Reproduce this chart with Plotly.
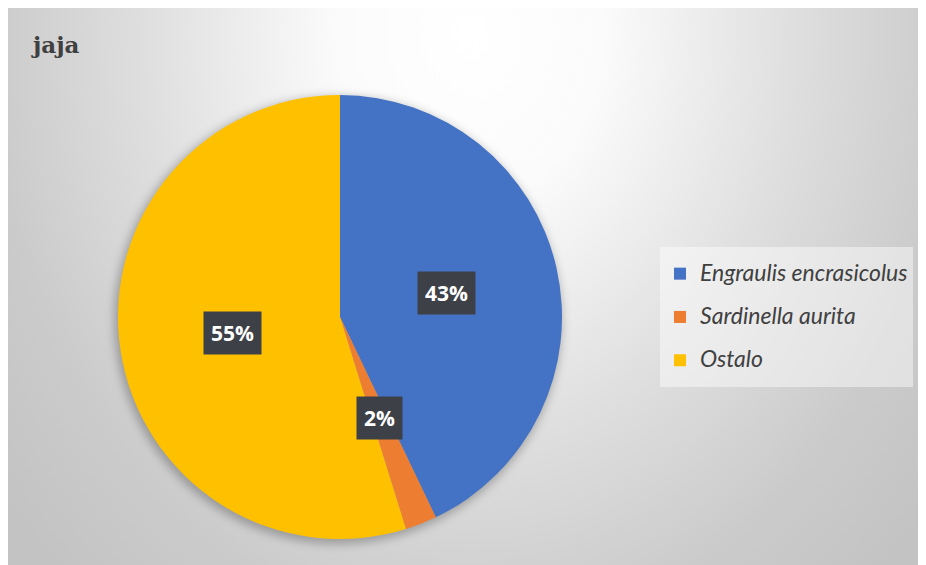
import base64
import math
import plotly.graph_objects as go

# data
categories = ["Engraulis encrasicolus", "Sardinella aurita", "Ostalo"]
values = [42.9, 2.3, 54.8]
colors = ["#4472C4", "#ED7D31", "#FFC000"]
title_text = "jaja"

W, H = 926, 565
# pie placement in pixels (figure coordinates; page adds an 8px body margin)
pie_cx, pie_cy, pie_r = 332, 309, 222

# background: radial grey gradient + soft pie shadow as an svg
svg = f"""<svg xmlns='http://www.w3.org/2000/svg' width='{W}' height='{H}' viewBox='0 0 {W} {H}' preserveAspectRatio='none'>
<defs>
<radialGradient id='g' gradientUnits='userSpaceOnUse' cx='462' cy='25' r='600' gradientTransform='translate(462 25) scale(1 1.25) translate(-462 -25)'>
<stop offset='0' stop-color='#ffffff'/>
<stop offset='0.22' stop-color='#fbfbfb'/>
<stop offset='0.55' stop-color='#dedede'/>
<stop offset='0.8' stop-color='#cbcbcb'/>
<stop offset='1' stop-color='#c3c3c3'/>
</radialGradient>
<filter id='b' x='-20%' y='-20%' width='140%' height='140%'><feGaussianBlur stdDeviation='5'/></filter>
</defs>
<rect width='{W}' height='{H}' fill='url(#g)'/>
<circle cx='{pie_cx - 2}' cy='{pie_cy + 3}' r='{pie_r + 2}' fill='#000' fill-opacity='0.26' filter='url(#b)'/>
</svg>"""
bg_src = "data:image/svg+xml;base64," + base64.b64encode(svg.encode()).decode()

fig = go.Figure()

fig.add_trace(go.Pie(
    labels=[f"<span style='font-size:23px;baseline-shift:5px'>{c}</span>" for c in categories],
    values=values,
    marker=dict(colors=colors, line=dict(width=0)),
    sort=False,
    direction="clockwise",
    rotation=0,
    textinfo="none",
    hoverinfo="skip",
    domain=dict(x=[(pie_cx - pie_r) / W, (pie_cx + pie_r) / W],
                y=[1 - (pie_cy + pie_r) / H, 1 - (pie_cy - pie_r) / H]),
))

# percentage labels in dark boxes, placed at the middle angle of each slice
total = sum(values)
cum = 0
for v in values:
    mid = (cum + v / 2) / total * 2 * math.pi
    cum += v
    rr = pie_r * 0.49
    px = pie_cx + rr * math.sin(mid)
    py = pie_cy - rr * math.cos(mid)
    fig.add_annotation(
        x=px / W, y=1 - py / H, xref="paper", yref="paper",
        xanchor="center", yanchor="middle",
        text=f"<b>{round(v / total * 100)}%</b>",
        showarrow=False,
        font=dict(family="Open Sans", size=21, color="white"),
        bgcolor="#3d4047",
        borderpad=7,
    )

fig.add_layout_image(
    source=bg_src, xref="paper", yref="paper",
    x=0, y=1, sizex=1, sizey=1,
    xanchor="left", yanchor="top", sizing="stretch", layer="below",
)

fig.update_layout(
    width=W, height=H,
    margin=dict(l=0, r=0, t=0, b=0),
    paper_bgcolor="#c8c8c8",
    title=dict(text=f"<b>{title_text}</b>", x=25 / W, xref="container", xanchor="left",
               y=1 - 37 / H, yref="container", yanchor="middle",
               font=dict(family="DejaVu Serif", size=23, color="#404040")),
    legend=dict(x=652 / W, y=1 - 309 / H, xanchor="left", yanchor="middle",
                bgcolor="rgba(255,255,255,0.45)",
                font=dict(family="Lato", size=31, color="#404040", style="italic"),
                itemwidth=30),
)

fig.write_html("out.html")
